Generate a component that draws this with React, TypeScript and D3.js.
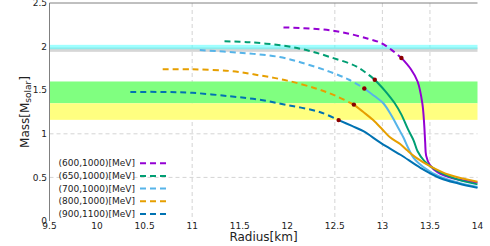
import React from "react";
import * as d3 from "d3";

const W = 490, H = 246;
const margin = { left: 49.5, right: 12.5, top: 3, bottom: 25 };

const xTicks = [9.5, 10, 10.5, 11, 11.5, 12, 12.5, 13, 13.5, 14];
const yTicks = [0, 0.5, 1, 1.5, 2, 2.5];
const xGrid = [11, 12.5, 13, 13.5];
const yGrid = [0.5, 1];

const seriesNames = ["(600,1000)[MeV]", "(650,1000)[MeV]", "(700,1000)[MeV]", "(800,1000)[MeV]", "(900,1100)[MeV]"];
const seriesColors = ["#9400d3", "#009e73", "#56b4e9", "#e69f00", "#0072b2"];

const dashed600: [number, number][] = [[11.96,2.22],[12.34,2.20],[12.6,2.16],[12.85,2.09],[12.98,2.045],[13.10,1.96],[13.20,1.87]];
const solid600: [number, number][] = [[13.20,1.87],[13.30,1.74],[13.37,1.60],[13.42,1.35],[13.44,1.10],[13.45,0.90],[13.46,0.75],[13.50,0.64],[13.58,0.56],[13.74,0.49],[14,0.44]];
const dashed650: [number, number][] = [[11.34,2.06],[11.6,2.05],[11.96,2.01],[12.2,1.96],[12.45,1.88],[12.73,1.77],[12.92,1.62]];
const solid650: [number, number][] = [[12.92,1.62],[13.03,1.49],[13.13,1.35],[13.20,1.22],[13.27,1.05],[13.33,0.92],[13.37,0.80],[13.44,0.69],[13.57,0.58],[13.78,0.48],[14,0.42]];
const dashed700: [number, number][] = [[11.08,1.96],[11.5,1.93],[11.92,1.88],[12.2,1.80],[12.45,1.71],[12.65,1.62],[12.81,1.52]];
const solid700: [number, number][] = [[12.81,1.52],[12.92,1.43],[13.01,1.35],[13.10,1.20],[13.17,1.06],[13.22,0.96],[13.27,0.84],[13.33,0.72],[13.43,0.62],[13.6,0.51],[13.8,0.44],[14,0.39]];
const dashed800: [number, number][] = [[10.69,1.74],[11.0,1.74],[11.4,1.72],[11.71,1.67],[12.0,1.61],[12.3,1.52],[12.5,1.44],[12.70,1.335]];
const solid800: [number, number][] = [[12.70,1.335],[12.80,1.25],[12.90,1.16],[13.0,1.05],[13.08,0.96],[13.19,0.88],[13.26,0.81],[13.35,0.73],[13.5,0.63],[13.7,0.53],[14,0.45]];
const dashed900: [number, number][] = [[10.35,1.48],[10.7,1.48],[11.0,1.47],[11.4,1.43],[11.71,1.39],[12.0,1.33],[12.34,1.25],[12.54,1.157]];
const solid900: [number, number][] = [[12.54,1.157],[12.68,1.09],[12.80,1.03],[12.99,0.89],[13.19,0.76],[13.40,0.61],[13.61,0.49],[13.8,0.43],[14,0.38]];

const dashedParts = [dashed600, dashed650, dashed700, dashed800, dashed900];
const solidParts = [solid600, solid650, solid700, solid800, solid900];

// bands: [low, high, color]
const bands: [number, number, string][] = [
  [1.94, 1.99, "#d6d6d6"],
  [1.97, 2.02, "rgba(64,255,255,0.5)"],
  [1.35, 1.6, "#80ff80"],
  [1.16, 1.35, "#ffff80"],
];

export default function App() {
  const x = d3.scaleLinear().domain([9.5, 14]).range([margin.left, W - margin.right]);
  const y = d3.scaleLinear().domain([0, 2.5]).range([H - margin.bottom, margin.top]);
  const line = d3.line<[number, number]>().x(d => x(d[0])).y(d => y(d[1])).curve(d3.curveCatmullRom.alpha(0.5));
  const font = "DejaVu Sans, Verdana, sans-serif";
  const legendY0 = 163.3, legendDy = 12.65;
  return (
    <svg width={W} height={H} style={{ position: "absolute", left: 0, top: 0, background: "#fff" }} fontFamily={font}>
      {xGrid.map(v => (
        <line key={"xg" + v} x1={x(v)} x2={x(v)} y1={y(2.5)} y2={y(0)} stroke="#d4d4d4" strokeDasharray="4,3" strokeWidth={1} />
      ))}
      {yGrid.map(v => (
        <line key={"yg" + v} x1={x(9.5)} x2={x(14)} y1={y(v)} y2={y(v)} stroke="#d4d4d4" strokeDasharray="4,3" strokeWidth={1} />
      ))}
      {bands.map((b, i) => (
        <rect key={"b" + i} x={x(9.5)} width={x(14) - x(9.5)} y={y(b[1])} height={y(b[0]) - y(b[1])} fill={b[2]} />
      ))}
      {dashedParts.map((pts, i) => (
        <path key={"d" + i} d={line(pts) || ""} fill="none" stroke={seriesColors[i]} strokeWidth={2} strokeDasharray="6,4" />
      ))}
      {solidParts.map((pts, i) => (
        <path key={"s" + i} d={line(pts) || ""} fill="none" stroke={seriesColors[i]} strokeWidth={2} />
      ))}
      {solidParts.map((pts, i) => (
        <circle key={"c" + i} cx={x(pts[0][0])} cy={y(pts[0][1])} r={2.2} fill="#8b0000" />
      ))}
      {seriesNames.map((n, i) => (
        <g key={"l" + i}>
          <text x={135} y={legendY0 + i * legendDy} dy="0.35em" textAnchor="end" fontSize={9} fill="#222">{n}</text>
          <line x1={140} x2={166} y1={legendY0 + i * legendDy} y2={legendY0 + i * legendDy} stroke={seriesColors[i]} strokeWidth={2} strokeDasharray="6,4" />
        </g>
      ))}
      <line x1={x(9.5)} x2={x(9.5)} y1={y(2.5)} y2={y(0)} stroke="#808080" strokeWidth={1} />
      <line x1={x(9.5)} x2={x(14)} y1={y(2.5)} y2={y(2.5)} stroke="#808080" strokeWidth={1} />
      {yTicks.map(v => (
        <text key={"yt" + v} x={x(9.5) - 2.5} y={y(v)} dy="0.35em" textAnchor="end" fontSize={9} fill="#222">{String(v)}</text>
      ))}
      {xTicks.map(v => (
        <text key={"xt" + v} x={x(v)} y={229} textAnchor="middle" fontSize={9} fill="#222">{String(v)}</text>
      ))}
      <text x={(x(9.5) + x(14)) / 2 + 0} y={241} textAnchor="middle" fontSize={12} fill="#222">Radius[km]</text>
      <text transform={`translate(29,${(y(0) + y(2.5)) / 2}) rotate(-90)`} textAnchor="middle" fontSize={12} fill="#222">
        Mass[M<tspan fontSize={9} dy={1.5}>solar</tspan><tspan dy={-1.5}>]</tspan>
      </text>
    </svg>
  );
}
